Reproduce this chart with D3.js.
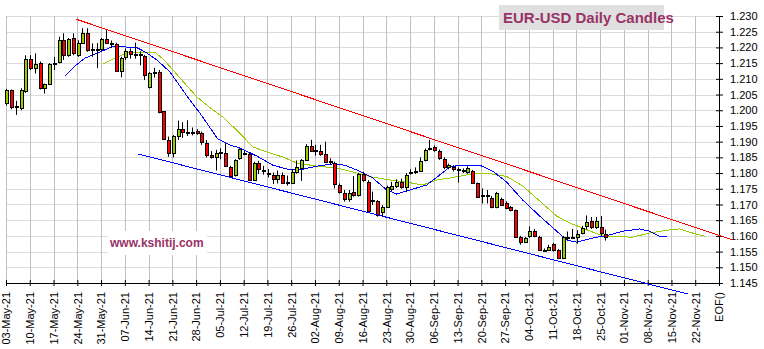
<!DOCTYPE html>
<html>
<head>
<meta charset="utf-8">
<script src="https://cdn.jsdelivr.net/npm/d3@7"></script>
<style>
  html, body { margin: 0; padding: 0; background: #fff; }
  svg { display: block; font-family: "Liberation Sans", Arial, sans-serif; }
</style>
</head>
<body>
<svg id="chart" width="764" height="349"></svg>
<script>
// Weekly date labels along the bottom axis (Mondays), plus the end-of-feed marker
const weekLabels = ["03-May-21","10-May-21","17-May-21","24-May-21","31-May-21","07-Jun-21","14-Jun-21",
  "21-Jun-21","28-Jun-21","05-Jul-21","12-Jul-21","19-Jul-21","26-Jul-21","02-Aug-21","09-Aug-21",
  "16-Aug-21","23-Aug-21","30-Aug-21","06-Sep-21","13-Sep-21","20-Sep-21","27-Sep-21","04-Oct-21",
  "11-Oct-21","18-Oct-21","25-Oct-21","01-Nov-21","08-Nov-21","15-Nov-21","22-Nov-21","EOF()"];

// Price ticks on the right axis
const priceTicks = [1.145,1.150,1.155,1.160,1.165,1.170,1.175,1.180,1.185,1.190,
  1.195,1.200,1.205,1.210,1.215,1.220,1.225,1.230];

// Daily EUR-USD candles, one entry per trading day starting Mon 03-May-21
const opens = [1.2022,1.2064,1.2012,1.2008,1.2062, 1.2162,1.2133,1.2151,1.2072,1.2085,
  1.2149,1.2154,1.2223,1.2176,1.2229, 1.2176,1.2215,1.2247,1.2195,1.2192,
  1.2194,1.2226,1.2213,1.2210,1.2126, 1.2168,1.2189,1.2180,1.2180,1.2172,
  1.2075,1.2117,1.2121,1.1996,1.1905, 1.1863,1.1918,1.1939,1.1930,1.1931,
  1.1935,1.1927,1.1897,1.1858,1.1852, 1.1866,1.1863,1.1820,1.1794,1.1847,
  1.1865,1.1861,1.1778,1.1831,1.1810, 1.1800,1.1795,1.1781,1.1795,1.1769,
  1.1768,1.1803,1.1815,1.1841,1.1886, 1.1871,1.1870,1.1862,1.1836,1.1831,
  1.1762,1.1735,1.1717,1.1741,1.1730, 1.1796,1.1772,1.1713,1.1710,1.1675,
  1.1693,1.1748,1.1758,1.1770,1.1757, 1.1802,1.1806,1.1808,1.1840,1.1878,
  1.1884,1.1870,1.1845,1.1818,1.1818, 1.1811,1.1810,1.1804,1.1805,1.1767,
  1.1729,1.1729,1.1722,1.1693,1.1716, 1.1705,1.1692,1.1682,1.1597,1.1581,
  1.1599,1.1616,1.1595,1.1555,1.1555, 1.1573,1.1555,1.1531,1.1596,1.1596,
  1.1595,1.1610,1.1630,1.1646,1.1627, 1.1629,1.1607];
const highs = [1.2068,1.2066,1.2030,1.2070,1.2175, 1.2175,1.2181,1.2155,1.2085,1.2150,
  1.2170,1.2234,1.2245,1.2230,1.2245, 1.2223,1.2261,1.2261,1.2213,1.2214,
  1.2230,1.2255,1.2222,1.2215,1.2170, 1.2197,1.2197,1.2215,1.2187,1.2176,
  1.2122,1.2135,1.2128,1.1998,1.1916, 1.1921,1.1967,1.1962,1.1968,1.1945,
  1.1940,1.1932,1.1905,1.1870,1.1874, 1.1879,1.1895,1.1823,1.1844,1.1879,
  1.1871,1.1865,1.1836,1.1839,1.1823, 1.1813,1.1802,1.1808,1.1802,1.1792,
  1.1813,1.1840,1.1845,1.1892,1.1906, 1.1890,1.1890,1.1900,1.1847,1.1836,
  1.1767,1.1746,1.1746,1.1790,1.1801, 1.1804,1.1777,1.1741,1.1714,1.1698,
  1.1760,1.1772,1.1780,1.1782,1.1800, 1.1812,1.1818,1.1850,1.1878,1.1906,
  1.1888,1.1875,1.1850,1.1830,1.1825, 1.1818,1.1815,1.1822,1.1810,1.1770,
  1.1751,1.1746,1.1727,1.1740,1.1722, 1.1710,1.1695,1.1684,1.1600,1.1597,
  1.1630,1.1622,1.1600,1.1560,1.1572, 1.1578,1.1558,1.1600,1.1614,1.1622,
  1.1618,1.1632,1.1665,1.1660,1.1660, 1.1663,1.1620];
const lows = [1.2015,1.2003,1.1985,1.2000,1.2055, 1.2128,1.2117,1.2066,1.2053,1.2080,
  1.2128,1.2149,1.2160,1.2170,1.2175, 1.2170,1.2211,1.2186,1.2170,1.2134,
  1.2187,1.2213,1.2198,1.2123,1.2105, 1.2160,1.2164,1.2164,1.2143,1.2096,
  1.2069,1.2104,1.1990,1.1905,1.1852, 1.1850,1.1905,1.1912,1.1918,1.1920,
  1.1922,1.1890,1.1850,1.1846,1.1808, 1.1844,1.1820,1.1787,1.1789,1.1842,
  1.1857,1.1776,1.1776,1.1797,1.1795, 1.1786,1.1765,1.1767,1.1765,1.1760,
  1.1765,1.1798,1.1775,1.1839,1.1868, 1.1855,1.1855,1.1833,1.1828,1.1751,
  1.1735,1.1709,1.1709,1.1725,1.1725, 1.1772,1.1675,1.1698,1.1661,1.1661,
  1.1690,1.1742,1.1752,1.1750,1.1740, 1.1795,1.1797,1.1805,1.1837,1.1872,
  1.1868,1.1842,1.1812,1.1812,1.1805, 1.1770,1.1800,1.1798,1.1765,1.1722,
  1.1703,1.1703,1.1688,1.1688,1.1695, 1.1685,1.1678,1.1594,1.1572,1.1577,
  1.1594,1.1596,1.1552,1.1550,1.1552, 1.1550,1.1526,1.1528,1.1585,1.1590,
  1.1575,1.1605,1.1620,1.1622,1.1622, 1.1600,1.1585];
const closes = [1.2064,1.2011,1.2010,1.2064,1.2162, 1.2133,1.2147,1.2072,1.2082,1.2146,
  1.2150,1.2223,1.2176,1.2226,1.2181, 1.2213,1.2247,1.2192,1.2193,1.2194,
  1.2226,1.2215,1.2212,1.2126,1.2165, 1.2189,1.2179,1.2179,1.2178,1.2112,
  1.2117,1.2123,1.1995,1.1908,1.1863, 1.1918,1.1939,1.1930,1.1931,1.1932,
  1.1927,1.1900,1.1858,1.1851,1.1863, 1.1865,1.1823,1.1791,1.1842,1.1876,
  1.1864,1.1778,1.1833,1.1813,1.1809, 1.1799,1.1781,1.1795,1.1767,1.1770,
  1.1802,1.1818,1.1840,1.1886,1.1871, 1.1872,1.1861,1.1836,1.1837,1.1764,
  1.1741,1.1719,1.1737,1.1730,1.1796, 1.1778,1.1679,1.1714,1.1668,1.1693,
  1.1755,1.1758,1.1770,1.1757,1.1793, 1.1803,1.1808,1.1837,1.1872,1.1880,
  1.1873,1.1847,1.1818,1.1826,1.1812, 1.1812,1.1811,1.1817,1.1768,1.1725,
  1.1731,1.1731,1.1693,1.1735,1.1699, 1.1690,1.1683,1.1597,1.1581,1.1592,
  1.1617,1.1599,1.1556,1.1554,1.1566, 1.1555,1.1530,1.1596,1.1597,1.1597,
  1.1607,1.1626,1.1645,1.1627,1.1647, 1.1608,1.1595];

// Fast moving average (blue) as [day position, price]
const maFast = [[12.41,1.2109],[14.51,1.2141],[16.61,1.2166],[19.76,1.2185],[22.50,1.2204],
  [25.44,1.2201],[27.75,1.2198],[29.65,1.2182],[31.75,1.2160],[34.48,1.2122],[36.59,1.2077],
  [38.69,1.2032],[40.79,1.1991],[42.26,1.1959],[44.58,1.1908],[47.10,1.1889],[49.20,1.1880],
  [52.78,1.1854],[56.14,1.1825],[59.08,1.1813],[61.82,1.1810],[65.39,1.1822],[68.76,1.1829],
  [71.28,1.1825],[74.43,1.1806],[77.17,1.1784],[80.11,1.1746],[82.21,1.1733],[84.95,1.1746],
  [88.52,1.1762],[91.25,1.1794],[93.36,1.1819],[95.46,1.1825],[99.66,1.1825],[102.40,1.1806],
  [105.34,1.1771],[108.71,1.1714],[112.28,1.1663],[115.85,1.1615],[117.96,1.1587],[120.06,1.1580],
  [123.42,1.1593],[127.00,1.1603],[129.73,1.1615],[133.31,1.1622],[135.41,1.1615],[137.51,1.1599],
  [138.98,1.1599]];

// Slow moving average (yellow-green) as [day position, price]
const maSlow = [[20.40,1.2147],[23.34,1.2169],[25.44,1.2182],[28.18,1.2185],[31.33,1.2185],
  [33.01,1.2163],[33.85,1.2150],[36.59,1.2103],[40.16,1.2042],[43.52,1.2001],[45.63,1.1978],
  [49.20,1.1927],[51.93,1.1883],[54.88,1.1867],[58.24,1.1851],[61.19,1.1832],[65.39,1.1822],
  [69.60,1.1816],[73.80,1.1800],[77.17,1.1787],[80.74,1.1778],[84.31,1.1771],[87.68,1.1762],
  [90.62,1.1778],[93.36,1.1784],[98.19,1.1798],[101.77,1.1798],[105.34,1.1789],[108.71,1.1759],
  [112.28,1.1711],[115.85,1.1663],[118.59,1.1641],[121.32,1.1625],[124.26,1.1607],[127.00,1.1598],
  [131.83,1.1596],[135.41,1.1609],[138.98,1.1618],[141.72,1.1622],[144.45,1.1609],[146.97,1.1599]];

// Channel trend lines
const upperTrend = [[14.72,1.2290],[152.86,1.1587]];
const lowerTrend = [[27.75,1.1861],[143.40,1.1415]];

const width = 764, height = 349;
const plotLeft = 6, plotRight = 719, plotTop = 16, plotBottom = 283;

const svg = d3.select("#chart");
const x = d3.scaleLinear().domain([0, 150]).range([plotLeft, plotRight]);
const y = d3.scaleLinear().domain([1.145, 1.230]).range([plotBottom, plotTop]);
const crisp = v => Math.round(v) + 0.5;

// Grid
const grid = svg.append("g");
grid.selectAll("line.hgrid")
  .data(priceTicks.filter(v => v > 1.1451))
  .join("line")
  .attr("x1", plotLeft).attr("x2", plotRight)
  .attr("y1", d => crisp(y(d))).attr("y2", d => crisp(y(d)))
  .attr("stroke", "#dcdcdc").attr("stroke-width", 1);
grid.selectAll("line.vgrid")
  .data(d3.range(0, 150, 5))
  .join("line")
  .attr("x1", d => crisp(x(d))).attr("x2", d => crisp(x(d)))
  .attr("y1", plotTop).attr("y2", plotBottom)
  .attr("stroke", "#c0c0c0").attr("stroke-width", 1);

// Title panel
svg.append("rect").attr("x", 499).attr("y", 5).attr("width", 165).attr("height", 25).attr("fill", "#e0e0e0");
svg.append("text").attr("x", 503).attr("y", 23)
  .attr("font-size", 15).attr("font-weight", "bold").attr("fill", "#993366")
  .text("EUR-USD Daily Candles");

// Site label
svg.append("rect").attr("x", 108).attr("y", 231).attr("width", 99).attr("height", 24).attr("fill", "#fff");
svg.append("text").attr("x", 110).attr("y", 247)
  .attr("font-size", 12).attr("font-weight", "bold").attr("fill", "#993366")
  .text("www.kshitij.com");

// Axes
const yAxis = d3.axisRight(y).tickValues(priceTicks).tickFormat(d3.format(".3f"))
  .tickSizeInner(4).tickSizeOuter(0).tickPadding(7);
const gy = svg.append("g").attr("transform", `translate(${plotRight},0)`).call(yAxis);
gy.selectAll(".tick line").attr("x1", -3).attr("stroke", "#000");
gy.select(".domain").attr("stroke", "#000");
gy.selectAll("text").attr("font-size", 11).attr("font-family", "Liberation Sans, Arial, sans-serif").attr("fill", "#000");

const xAxis = d3.axisBottom(x).tickValues(d3.range(0, 151, 5))
  .tickFormat((d, i) => weekLabels[i]).tickSizeInner(3).tickSizeOuter(0);
const gx = svg.append("g").attr("transform", `translate(0,${plotBottom})`).call(xAxis);
gx.selectAll(".tick line").attr("y1", -3).attr("stroke", "#000");
gx.select(".domain").attr("stroke", "#000");
gx.selectAll("text")
  .attr("transform", "rotate(-90)")
  .attr("x", -9).attr("y", 0).attr("dy", "0.35em")
  .attr("text-anchor", "end")
  .attr("font-size", 11).attr("font-family", "Liberation Sans, Arial, sans-serif").attr("fill", "#000");

// Moving averages (aliased, 1px)
const line = d3.line().x(d => x(d[0])).y(d => y(d[1]));
svg.append("path").datum(maSlow).attr("d", line)
  .attr("fill", "none").attr("stroke", "#99cc00").attr("stroke-width", 1)
  .attr("shape-rendering", "crispEdges");
svg.append("path").datum(maFast).attr("d", line)
  .attr("fill", "none").attr("stroke", "#0000ff").attr("stroke-width", 1)
  .attr("shape-rendering", "crispEdges");

// Candles
const candles = opens.map((o, i) => ({ i, o, h: highs[i], l: lows[i], c: closes[i] }));
const cg = svg.append("g").selectAll("g").data(candles).join("g");
cg.append("line")
  .attr("x1", d => Math.round(x(d.i + 0.3)) - 0.5)
  .attr("x2", d => Math.round(x(d.i + 0.3)) - 0.5)
  .attr("y1", d => y(d.h)).attr("y2", d => y(d.l))
  .attr("stroke", "#000").attr("stroke-width", 1);
cg.append("rect")
  .attr("x", d => Math.round(x(d.i + 0.3)) - 1.5)
  .attr("width", 3)
  .attr("y", d => crisp(y(Math.max(d.o, d.c))))
  .attr("height", d => Math.max(1, crisp(y(Math.min(d.o, d.c))) - crisp(y(Math.max(d.o, d.c)))))
  .attr("fill", d => d.c >= d.o ? "#99cc00" : "#ff0000")
  .attr("stroke", "#000").attr("stroke-width", 1);

// Channel lines
svg.append("path").datum(upperTrend).attr("d", line)
  .attr("fill", "none").attr("stroke", "#ff0000").attr("stroke-width", 1)
  .attr("shape-rendering", "crispEdges");
svg.append("path").datum(lowerTrend).attr("d", line)
  .attr("fill", "none").attr("stroke", "#0000ff").attr("stroke-width", 1)
  .attr("shape-rendering", "crispEdges");
</script>
</body>
</html>
